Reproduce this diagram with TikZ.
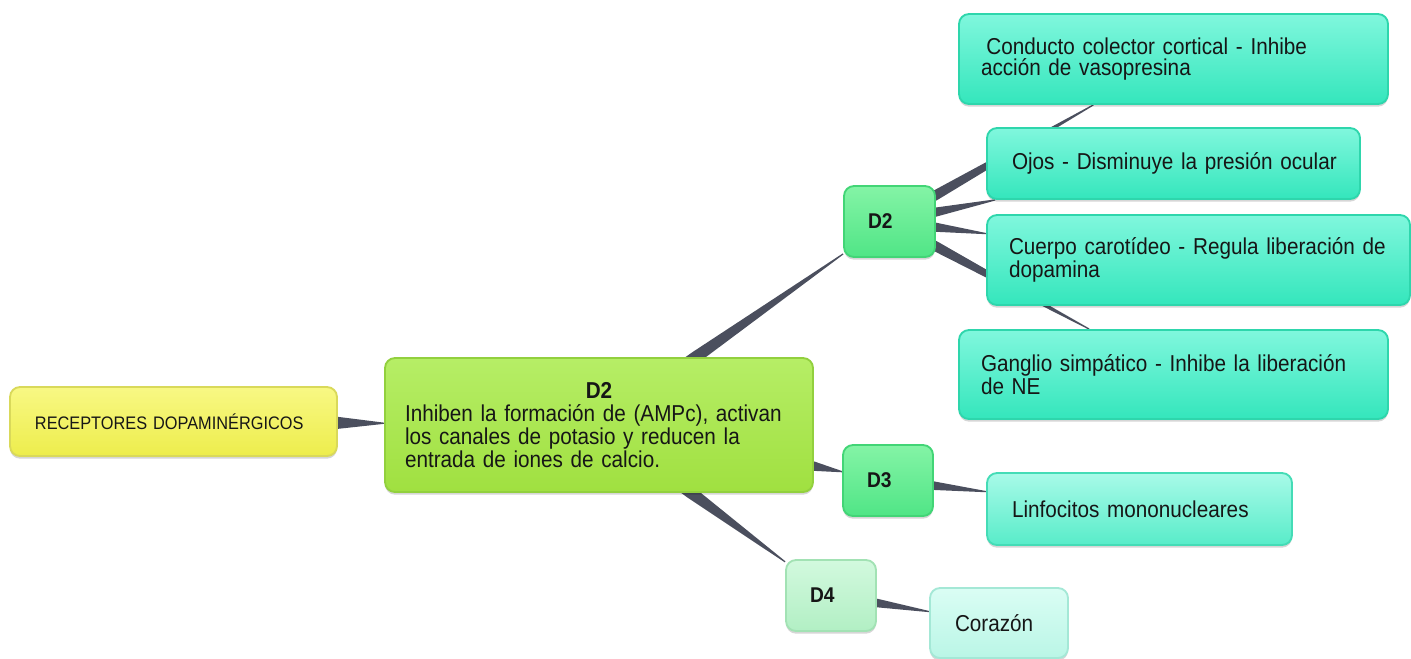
\documentclass[tikz,border=0pt]{standalone}
\usepackage{fontspec}
\setmainfont{Liberation Sans}[FakeStretch=0.9]
\usetikzlibrary{calc,shadows,backgrounds}

% palette
\definecolor{linkcol}{HTML}{4B4F5E}
\definecolor{inkcol}{HTML}{161616}
\definecolor{rootTop}{HTML}{F8F884}\definecolor{rootBot}{HTML}{EDED4C}\definecolor{rootLine}{HTML}{D9D95A}
\definecolor{mainTop}{HTML}{B6EE66}\definecolor{mainBot}{HTML}{A0E040}\definecolor{mainLine}{HTML}{92D03E}
\definecolor{recTop}{HTML}{84F4A6}\definecolor{recBot}{HTML}{50E586}\definecolor{recLine}{HTML}{42D576}
\definecolor{paleTop}{HTML}{D2F9DE}\definecolor{paleBot}{HTML}{B2EFC4}\definecolor{paleLine}{HTML}{A2E2B4}
\definecolor{tealTop}{HTML}{80F7DD}\definecolor{tealBot}{HTML}{34E6BC}\definecolor{tealLine}{HTML}{2ED6AC}
\definecolor{lightTop}{HTML}{A8FAE8}\definecolor{lightBot}{HTML}{58ECC9}\definecolor{lightLine}{HTML}{44DCB6}
\definecolor{iceTop}{HTML}{DAFDF4}\definecolor{iceBot}{HTML}{BAF6E6}\definecolor{iceLine}{HTML}{A4E8D6}

\newcommand\bodyfont{\fontsize{17.25pt}{15.75pt}\selectfont}
\newcommand\rootfont{\fontsize{13.6pt}{15pt}\selectfont}
\newcommand\tagfont{\fontsize{16pt}{18pt}\selectfont\bfseries}

% tapered connector: thick at the parent, thin where it meets the child
\newcommand\taperlink[3]{%
  \pgfcoordinate{#1#2s}{\pgfpointshapeborder{#1}{\pgfpointanchor{#2}{center}}}%
  \pgfcoordinate{#1#2t}{\pgfpointshapeborder{#2}{\pgfpointanchor{#1}{center}}}%
  \fill[link] ($(#1.center)!#3!90:(#2.center)$) -- ($(#1#2s)!#3!90:(#2.center)$)
    -- ($(#1#2t)!0.45pt!-90:(#1.center)$) -- ($(#1#2t)!0.45pt!90:(#1.center)$)
    -- ($(#1#2s)!#3!-90:(#2.center)$) -- ($(#1.center)!#3!-90:(#2.center)$) -- cycle;}

\tikzset{
  link/.style={fill=linkcol},
  box/.style={rounded corners=7.5pt, line width=1.4pt, inner xsep=0pt, inner ysep=0pt,
    align=left, text=inkcol, font=\bodyfont,
    drop shadow={shadow xshift=0pt, shadow yshift=-2pt, opacity=0.16, fill=black}},
  rootbox/.style={box, font=\rootfont, top color=rootTop, bottom color=rootBot, draw=rootLine},
  mainbox/.style={box, top color=mainTop, bottom color=mainBot, draw=mainLine},
  recbox/.style={box, font=\tagfont, top color=recTop, bottom color=recBot, draw=recLine,
    minimum width=67.5pt, minimum height=53.25pt, text width=31.5pt},
  palebox/.style={recbox, top color=paleTop, bottom color=paleBot, draw=paleLine},
  tealbox/.style={box, top color=tealTop, bottom color=tealBot, draw=tealLine},
  lightbox/.style={box, top color=lightTop, bottom color=lightBot, draw=lightLine},
  icebox/.style={box, top color=iceTop, bottom color=iceBot, draw=iceLine},
}

\begin{document}
\begin{tikzpicture}[x=0.75pt, y=-0.75pt]
\useasboundingbox (0,0) rectangle (1411,658);

% root and first level
\node[rootbox, minimum width=245.25pt, minimum height=51.75pt, text width=207.75pt]
  (root) at (173.5,421.5) {\mbox{RECEPTORES DOPAMINÉRGICOS}};
\node[mainbox, minimum width=321pt, minimum height=100.5pt, text width=291pt]
  (main) at (599,425) {\makebox[291pt]{\bfseries D2}\\[2pt]
  Inhiben la formación de (AMPc), activan\\
  los canales de potasio y reducen la\\
  entrada de iones de calcio.};

% receptor subtypes
\node[recbox, minimum width=68.25pt, text width=32.25pt] (dtwo) at (889.5,221.5) {D2};
\node[recbox] (dthree) at (888,480.5) {D3};
\node[palebox] (dfour) at (831,595.5) {D4};

% locations and effects
\node[tealbox, minimum width=321.75pt, minimum height=67.5pt, text width=288.75pt]
  (cond) at (1173.5,59) {\hspace*{4pt}Conducto colector cortical - Inhibe\\acción de vasopresina};
\node[tealbox, minimum width=279.75pt, minimum height=53.25pt, text width=242.25pt]
  (ojos) at (1173.5,163.5) {\mbox{Ojos - Disminuye la presión ocular}};
\node[tealbox, minimum width=317.25pt, minimum height=67.5pt, text width=284.25pt]
  (cuerpo) at (1198.5,260) {\mbox{Cuerpo carotídeo - Regula liberación de}\\dopamina};
\node[tealbox, minimum width=321.75pt, minimum height=66.75pt, text width=288.75pt]
  (gang) at (1173.5,374.5) {\mbox{Ganglio simpático - Inhibe la liberación}\\de NE};
\node[lightbox, minimum width=228.75pt, minimum height=54pt, text width=191.25pt]
  (linf) at (1139.5,509) {\mbox{Linfocitos mononucleares}};
\node[icebox, minimum width=103.5pt, minimum height=52.5pt, text width=66pt]
  (cor) at (999,623) {Corazón};

% connectors behind the boxes
\begin{pgfonlayer}{background}
  \taperlink{root}{main}{4.5pt}
  \taperlink{main}{dtwo}{4.5pt}
  \taperlink{main}{dthree}{3.5pt}
  \taperlink{main}{dfour}{4.5pt}
  \taperlink{dtwo}{cond}{3.75pt}
  \taperlink{dtwo}{ojos}{3.4pt}
  \taperlink{dtwo}{cuerpo}{3.4pt}
  \taperlink{dtwo}{gang}{3.75pt}
  \taperlink{dthree}{linf}{3.2pt}
  \taperlink{dfour}{cor}{3.2pt}
\end{pgfonlayer}
\end{tikzpicture}
\end{document}
